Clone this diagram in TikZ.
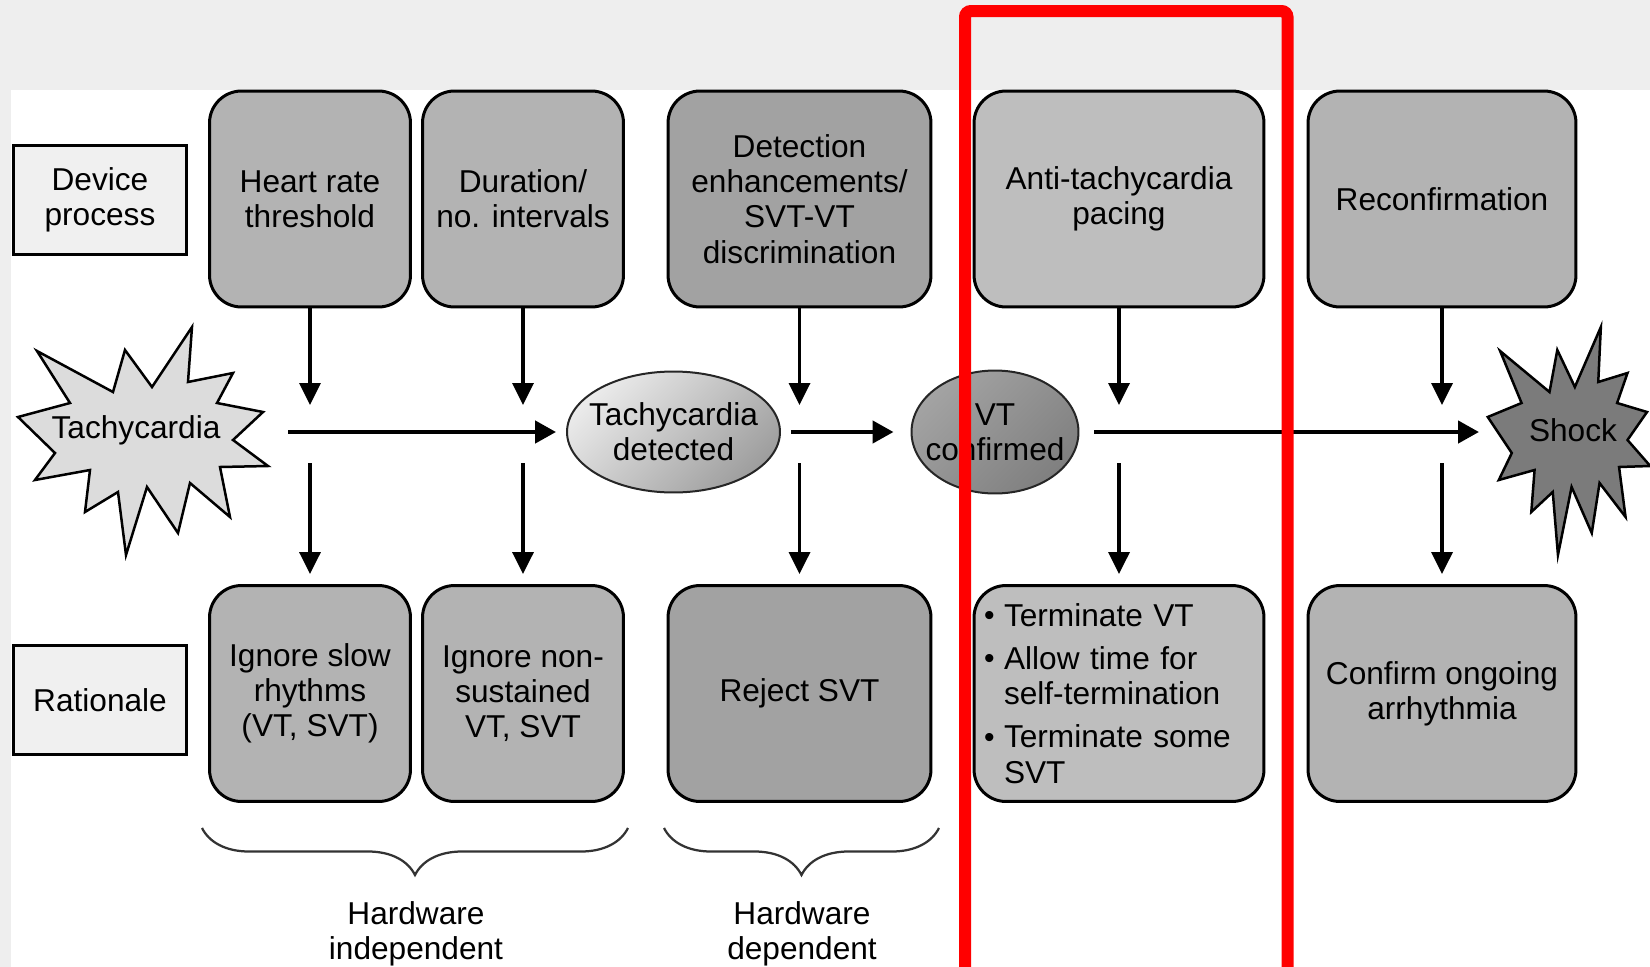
\documentclass[tikz,border=0pt]{standalone}
\usepackage{fontspec}
\setmainfont{Liberation Sans}
\usepackage{xcolor}
\usepackage{graphicx}
\usepackage{tikz}
\usetikzlibrary{arrows.meta, shapes.geometric, decorations.pathreplacing}

\definecolor{bgGrey}{HTML}{EEEEEE}
\definecolor{tagFill}{HTML}{F0F0F0}
\definecolor{boxMid}{HTML}{B3B3B3}
\definecolor{boxDark}{HTML}{A2A2A2}
\definecolor{boxLight}{HTML}{BEBEBE}
\definecolor{burstLight}{HTML}{DCDCDC}
\definecolor{burstDark}{HTML}{7B7B7B}
\definecolor{braceGrey}{HTML}{333333}

\newcommand{\bul}{\makebox[0.4cm][l]{\raisebox{0.05ex}{\scalebox{0.95}{\textbullet}}}}

\tikzset{burst/.pic={
  \path[pic actions] (-106,-90) -- (-30,-49) -- (-18,-91) -- (9,-54) -- (49,-114) -- (45,-59)
    -- (90,-68) -- (74,-38) -- (120,-29) -- (90,-1) -- (125,25) -- (77,26) -- (87,76) -- (47,42)
    -- (35,92) -- (4,46) -- (-17,114) -- (-25,51) -- (-58,71) -- (-53,29) -- (-108,39) -- (-88,12)
    -- (-125,-24) -- (-73,-38) -- cycle;
}}

\begin{document}
\begin{tikzpicture}[x=0.02cm, y=-0.02cm,
  every node/.style={font=\fontsize{18}{20}\selectfont, align=center},
  rowtag/.style={draw, line width=0.06cm, fill=tagFill, minimum width=3.48cm, minimum height=2.18cm},
  stage/.style={draw, line width=0.06cm, rounded corners=0.64cm, minimum width=4.02cm, minimum height=4.32cm},
  oval/.style={ellipse, draw=black!85, line width=0.04cm, inner sep=0pt},
  flow/.style={line width=0.09cm, -{Triangle[length=0.42cm, width=0.44cm]}},
  drop/.style={line width=0.07cm, -{Triangle[length=0.44cm, width=0.42cm]}},
  hbrace/.style={draw=braceGrey, line width=0.045cm, decorate, decoration={brace, mirror, amplitude=0.94cm}}]

\useasboundingbox (0,0) rectangle (1650,967);
\fill[bgGrey] (0,0) rectangle (1650,967);
\fill[white] (11,90) rectangle (1650,967);

\node[rowtag] (dev) at (100,200) {Device\\process};
\node[rowtag] (rat) at (100,700) {Rationale};

\node[stage, fill=boxMid] (thr) at (310,199) {Heart rate\\threshold};
\node[stage, fill=boxMid] (dur) at (523,199) {Duration/\\no. intervals};
\node[stage, fill=boxDark, minimum width=5.26cm] (enh) at (799.5,199) {Detection\\enhancements/\\SVT-VT\\discrimination};
\node[stage, fill=boxLight, minimum width=5.8cm] (atp) at (1119,199) {Anti-tachycardia\\pacing};
\node[stage, fill=boxMid, minimum width=5.36cm] (rec) at (1442,199) {Reconfirmation};

\node[stage, fill=boxMid] (slow) at (310,693.5) {Ignore slow\\rhythms\\(VT, SVT)};
\node[stage, fill=boxMid] (nonsus) at (523,693.5) {Ignore non-\\sustained\\VT, SVT};
\node[stage, fill=boxDark, minimum width=5.26cm] (rej) at (799.5,693.5) {Reject SVT};
\node[stage, fill=boxLight, minimum width=5.8cm, text width=5.4cm, inner xsep=0.2cm, align=left] (term) at (1119,693.5)
  {\bul Terminate VT\\[0.16cm]\bul Allow time for\\\hspace*{0.4cm}self-termination\\[0.16cm]\bul Terminate some\\\hspace*{0.4cm}SVT};
\node[stage, fill=boxMid, minimum width=5.36cm] (conf) at (1442,693.5) {Confirm ongoing\\arrhythmia};

\pic[draw, fill=burstLight, line width=0.05cm] at (143,441) {burst};
\pic[draw, fill=burstDark, line width=0.05cm, xscale=0.65] at (1569,441) {burst};
\node (tachy) at (136,430) {Tachycardia};
\node (shock) at (1573,430) {Shock};

\node[oval, minimum width=4.26cm, minimum height=2.42cm, top color=white!92!black, bottom color=black!38, shading angle=45] (tdet) at (673.5,432) {};
\node (tdetT) at (tdet) {Tachycardia\\detected};
\node[oval, minimum width=3.34cm, minimum height=2.46cm, top color=black!36, bottom color=black!50, shading angle=45] (vtc) at (995,432) {};
\node (vtcT) at (vtc) {VT\\confirmed};

\coordinate (tin) at (288,432);
\coordinate (sin) at (1479,432);
\coordinate (upA) at (0,405);
\coordinate (upB) at (0,463);

\draw[flow, shorten >=0.2cm] (tin) -- (tdet);
\draw[flow, shorten <=0.2cm, shorten >=0.34cm] (tdet) -- (vtc);
\draw[flow, shorten <=0.3cm] (vtc) -- (sin);

\foreach \a/\b in {thr/slow, dur/nonsus, enh/rej, atp/term, rec/conf} {
  \draw[drop] (\a) -- (\a.south |- upA);
  \draw[drop, shorten >=0.2cm] (\a.south |- upB) -- (\b);
}

\draw[hbrace] (202,828) -- (628,828);
\draw[hbrace] (664,828) -- (939,828);
\node (hwin) at (416,934) {Hardware\\independent};
\node (hwdep) at (802,934) {Hardware\\dependent};

\draw[red, line width=0.24cm, rounded corners=0.12cm] (965,990) -- (965,11) -- (1287.5,11) -- (1287.5,990);
\end{tikzpicture}
\end{document}
